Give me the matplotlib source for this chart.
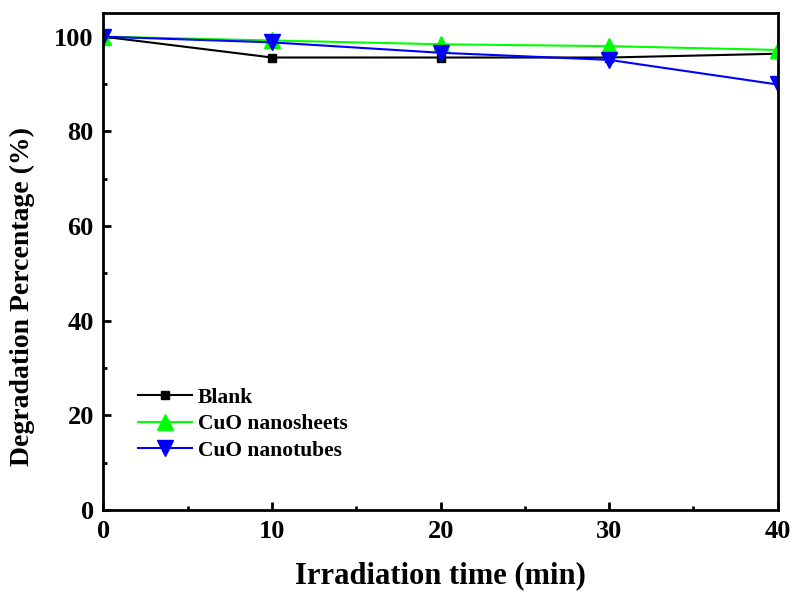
import matplotlib.pyplot as plt
from matplotlib.ticker import MultipleLocator

# datos
tempo = [0, 10, 20, 30, 40]
blank = [100, 95.6, 95.6, 95.6, 96.4]
nanosheets = [100, 99.2, 98.4, 98.0, 97.2]
nanotubes = [100, 98.8, 96.6, 95.1, 89.9]

plt.rcParams['font.family'] = 'Liberation Serif'
plt.rcParams['font.weight'] = 'bold'

fig = plt.figure(figsize=(7.96, 5.92), dpi=100)
ax = fig.add_axes([0.130, 0.1385, 0.847, 0.8395])

ax.plot(tempo, blank, color='black', marker='s', markersize=6, lw=1.5, label='Blank')
ax.plot(tempo, nanosheets, color='#00ff00', marker='^', markersize=11, lw=1.5, label='CuO nanosheets')
ax.plot(tempo, nanotubes, color='#0000ff', marker='v', markersize=11, lw=1.5, label='CuO nanotubes')

ax.set_xlim(0, 40)
ax.set_ylim(0, 105)
ax.xaxis.set_major_locator(MultipleLocator(10))
ax.xaxis.set_minor_locator(MultipleLocator(5))
ax.yaxis.set_major_locator(MultipleLocator(20))
ax.yaxis.set_minor_locator(MultipleLocator(10))
ax.tick_params(which='both', direction='in', width=2, labelsize=19, pad=7)
ax.tick_params(which='major', length=6)
ax.tick_params(which='minor', length=3)
for s in ax.spines.values():
    s.set_linewidth(2)

ax.set_xlabel('Irradiation time (min)', fontsize=22, fontweight='bold')
ax.xaxis.set_label_coords(0.5, -0.103)
ax.set_ylabel('Degradation Percentage (%)', fontsize=20, fontweight='bold')
ax.yaxis.set_label_coords(-0.102, 0.43)

ax.legend(loc='lower left', bbox_to_anchor=(0.022, 0.06), frameon=False, fontsize=15.5,
          handlelength=2.5, handletextpad=0.3, labelspacing=0.3)

fig.savefig('out.png', dpi=100)
